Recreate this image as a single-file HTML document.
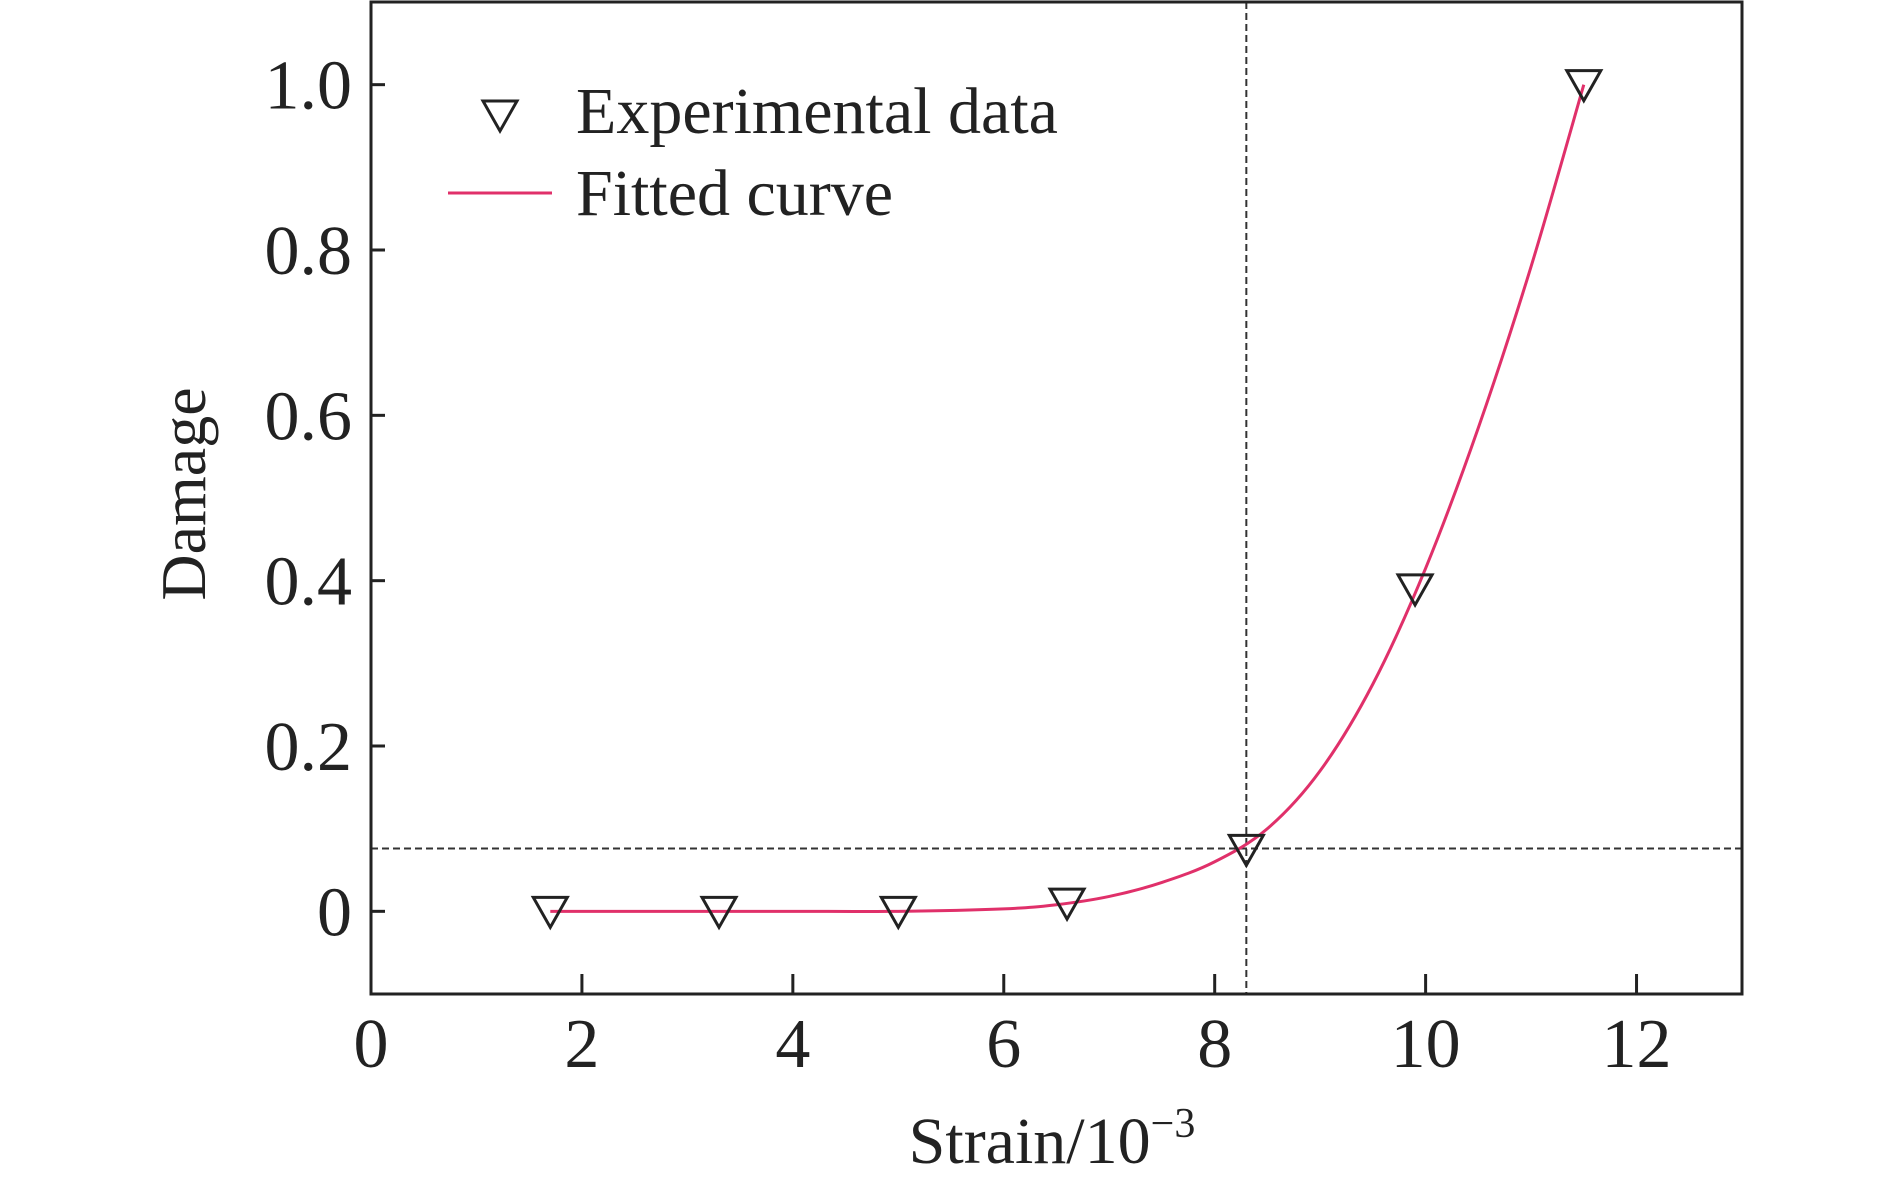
<!DOCTYPE html>
<html><head><meta charset="utf-8"><style>
body{margin:0;background:#fff;}
svg text{font-family:"Liberation Serif",serif;fill:#222;}
</style></head><body>
<svg width="1890" height="1183" viewBox="0 0 1890 1183" id="chart">
<rect x="0" y="0" width="1890" height="1183" fill="#fff"/>
<g id="plot"></g>
</svg>
<script>
const xTicks=[0,2,4,6,8,10,12];
const yTicks=[0,0.2,0.4,0.6,0.8,1.0];
const yTickLabels=["0","0.2","0.4","0.6","0.8","1.0"];
const expX=[1.7,3.3,5.0,6.6,8.3,9.9,11.5];
const expY=[0,0,0,0.01,0.075,0.39,1.0];
const fitX=[1.7,3,4,5,6,6.5,7,7.5,8,8.5,9,9.5,10,10.5,11,11.5];
const fitY=[0,0,0,0,0.003,0.008,0.018,0.035,0.06,0.1,0.17,0.275,0.415,0.585,0.78,1.0];
const refX=[8.3];
const refY=[0.076];

const L=371,R=1742,T=2,B=994,xMin=0,xMax=13,yMin=-0.1,yMax=1.1;
const sx=v=>L+(v-xMin)/(xMax-xMin)*(R-L);
const sy=v=>B-(v-yMin)/(yMax-yMin)*(B-T);
const NS="http://www.w3.org/2000/svg";
const g=document.getElementById('plot');
function mk(tag,attrs,parent){const e=document.createElementNS(NS,tag);for(const k in attrs)e.setAttribute(k,attrs[k]);(parent||g).appendChild(e);return e;}

refX.forEach(v=>{const e=mk('line',{x1:sx(v),x2:sx(v),y1:T,y2:B,stroke:'#333','stroke-width':2,'stroke-dasharray':'7,4'});

});
refY.forEach(v=>{const e=mk('line',{x1:L,x2:R,y1:sy(v),y2:sy(v),stroke:'#333','stroke-width':2,'stroke-dasharray':'7,4'});

});

const pts=fitX.map((x,i)=>[sx(x),sy(fitY[i])]);
let d=`M${pts[0][0]},${pts[0][1]}`;
for(let i=0;i<pts.length-1;i++){const p0=pts[i-1]||pts[i],p1=pts[i],p2=pts[i+1],p3=pts[i+2]||p2;
d+=` C${p1[0]+(p2[0]-p0[0])/6},${p1[1]+(p2[1]-p0[1])/6} ${p2[0]-(p3[0]-p1[0])/6},${p2[1]-(p3[1]-p1[1])/6} ${p2[0]},${p2[1]}`;}
const curve=mk('path',{d:d,fill:'none',stroke:'#e0306a','stroke-width':3});



function tri(cx,cy,parent){return mk('path',{d:`M${cx-17},${cy-14} L${cx+17},${cy-14} L${cx},${cy+16} Z`,fill:'none',stroke:'#222','stroke-width':3},parent);}
expX.forEach((x,i)=>{const e=tri(sx(x),sy(expY[i]));

});

const fr=mk('rect',{x:L,y:T,width:R-L,height:B-T,fill:'none',stroke:'#222','stroke-width':3});



xTicks.forEach(v=>{const t=mk('line',{x1:sx(v),x2:sx(v),y1:B,y2:B-20,stroke:'#222','stroke-width':3});


const l=mk('text',{x:sx(v),y:1067,'text-anchor':'middle','font-size':70});l.textContent=v;

});
yTicks.forEach((v,i)=>{const t=mk('line',{x1:L,x2:L+14,y1:sy(v),y2:sy(v),stroke:'#222','stroke-width':3});


const l=mk('text',{x:352,y:sy(v)+24,'text-anchor':'end','font-size':70});l.textContent=yTickLabels[i];

});

const xt=mk('text',{x:1052,y:1163,'text-anchor':'middle','font-size':66});
xt.innerHTML='Strain/10<tspan dy="-26" font-size="42">−3</tspan>';


const yt=mk('text',{x:0,y:0,'text-anchor':'middle','font-size':64,transform:'translate(205,494) rotate(-90)'});
yt.textContent='Damage';



const lg=mk('g',{});


const lm=tri(500,115,lg);


const lt1=mk('text',{x:576,y:133,'font-size':66},lg);lt1.textContent='Experimental data';


const ll=mk('line',{x1:448,x2:552,y1:193,y2:193,stroke:'#e0306a','stroke-width':3},lg);


const lt2=mk('text',{x:576,y:215,'font-size':66},lg);lt2.textContent='Fitted curve';


</script>
</body></html>
